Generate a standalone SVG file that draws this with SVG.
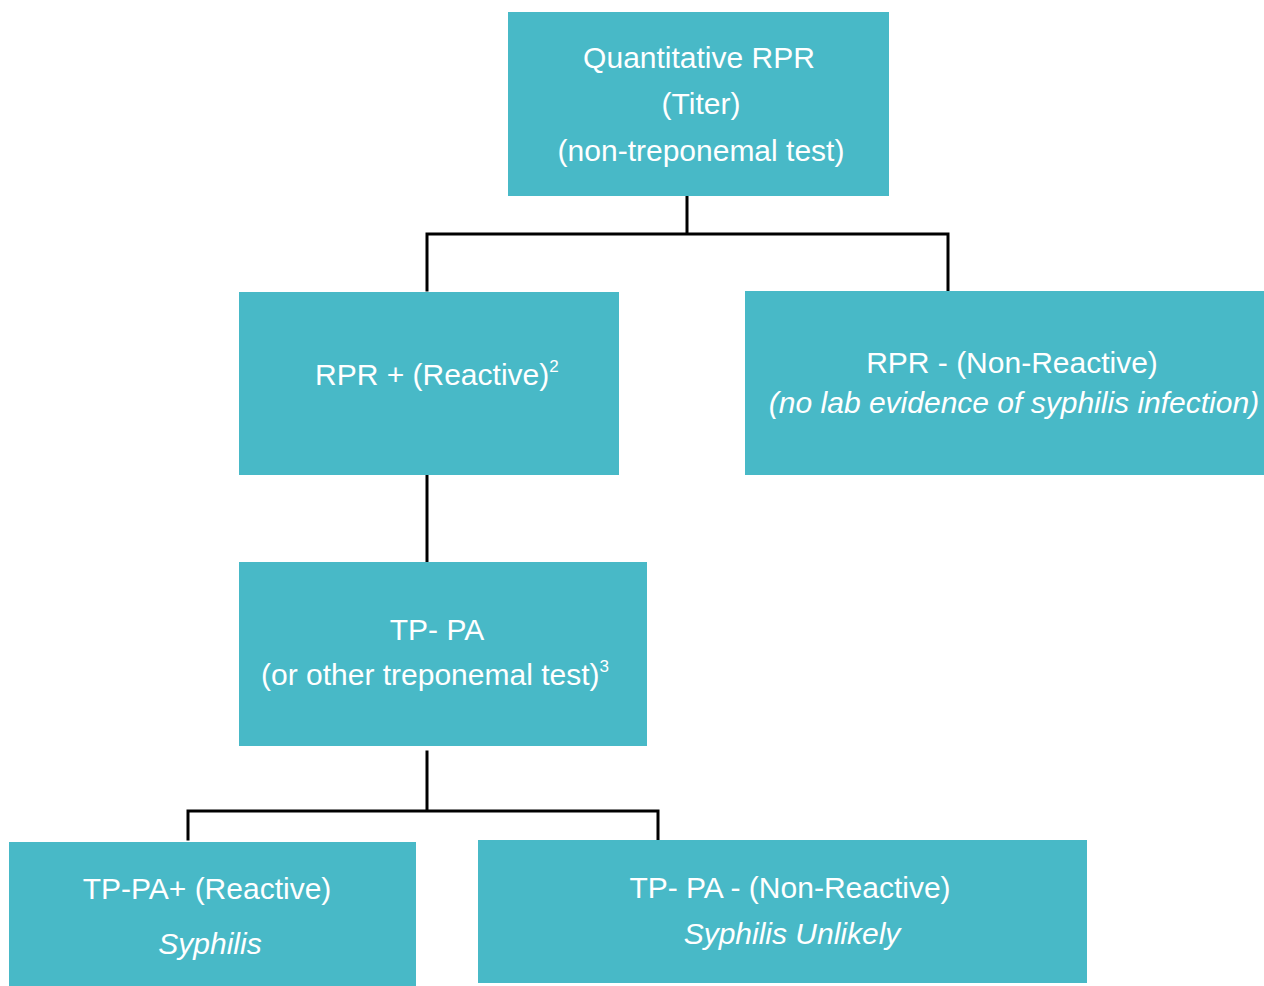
<svg xmlns="http://www.w3.org/2000/svg" width="1264" height="986" viewBox="0 0 1264 986">
<style>
.box{fill:#48B9C7;}
.t{font-family:"Liberation Sans",Arial,sans-serif;font-size:30px;fill:#ffffff;}
.c{text-anchor:middle;}
.i{font-style:italic;}
.sup{font-size:17px;}
.conn{stroke:#000000;stroke-width:3;fill:none;stroke-linecap:square;}
</style>
<rect width="1264" height="986" fill="#ffffff"/>
<g id="connectors">
<path class="conn" d="M687 196 V234 M427 290 V234 H948 V290"/>
<path class="conn" d="M427 476 V561"/>
<path class="conn" d="M427 752 V811 M188 839 V811 H658 V839"/>
</g>
<g id="node-quantitative-rpr">
<rect class="box" x="508" y="12" width="381" height="184"/>
<text class="t c" x="699" y="68">Quantitative RPR</text>
<text class="t c" x="701" y="114">(Titer)</text>
<text class="t c" x="701" y="161">(non-treponemal test)</text>
</g>
<g id="node-rpr-positive">
<rect class="box" x="239" y="292" width="380" height="183"/>
<text class="t" x="315" y="385">RPR + (Reactive)<tspan class="sup" dy="-13">2</tspan></text>
</g>
<g id="node-rpr-negative">
<rect class="box" x="745" y="291" width="519" height="184"/>
<text class="t c" x="1012" y="373">RPR - (Non-Reactive)</text>
<text class="t c i" x="1014" y="413">(no lab evidence of syphilis infection)</text>
</g>
<g id="node-tppa">
<rect class="box" x="239" y="562" width="408" height="184"/>
<text class="t c" x="437" y="640">TP- PA</text>
<text class="t" x="261" y="685">(or other treponemal test)<tspan class="sup" dy="-13">3</tspan></text>
</g>
<g id="node-tppa-positive">
<rect class="box" x="9" y="842" width="407" height="144"/>
<text class="t c" x="207" y="899">TP-PA+ (Reactive)</text>
<text class="t c i" x="210" y="954">Syphilis</text>
</g>
<g id="node-tppa-negative">
<rect class="box" x="478" y="840" width="609" height="143"/>
<text class="t c" x="790" y="898">TP- PA - (Non-Reactive)</text>
<text class="t c i" x="792" y="944">Syphilis Unlikely</text>
</g>
</svg>
